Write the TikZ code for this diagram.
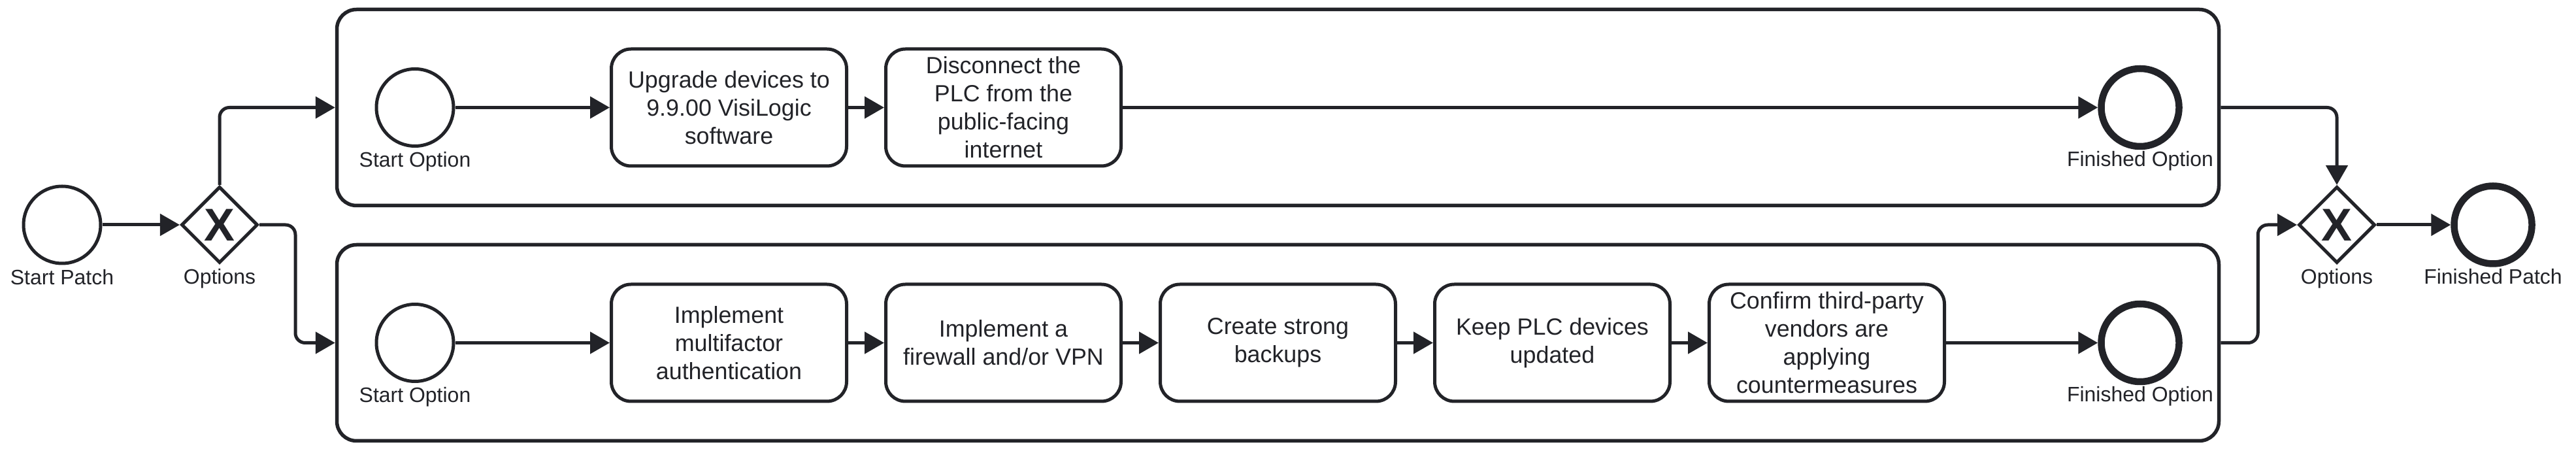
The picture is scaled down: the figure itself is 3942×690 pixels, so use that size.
\documentclass[tikz,border=0pt]{standalone}
\usepackage{fontspec}
\setmainfont{Liberation Sans}
\usetikzlibrary{positioning, arrows.meta, shapes.geometric}
\definecolor{ink}{HTML}{222328}
\tikzset{
->, % connectors get a filled head
>={Triangle[length=3mm, width=3.3mm]},
node distance=5.5mm, % gap between two tasks
startev/.style={circle, draw, line width=0.5mm, minimum size=11.8mm, inner sep=0pt},
endev/.style={circle, draw, line width=1.05mm, minimum size=11.9mm, inner sep=0pt},
gateway/.style={diamond, draw, line width=0.5mm, minimum width=11.7mm, minimum height=11.7mm, inner sep=0pt, font=\fontsize{20}{20}\selectfont\bfseries},
task/.style={rectangle, draw, rounded corners=3mm, line width=0.5mm, minimum width=36mm, minimum height=17.9mm, align=center, font=\fontsize{10.2}{12.2}\selectfont},
pool/.style={rectangle, draw, rounded corners=3mm, line width=0.55mm, minimum width=288mm, minimum height=30mm},
lbl/.style={font=\fontsize{9.1}{11}\selectfont, yshift=0.75mm},
endlbl/.style={lbl, yshift=0.45mm},
}

\begin{document}
\begin{tikzpicture}[x=0.1mm, y=-0.1mm, draw=ink, text=ink, line width=0.5mm]
                \useasboundingbox (0,0) rectangle (3942,690);

                % outer flow
                \node[startev, label={[lbl]below:Start Patch}] (startp) at (95,344) {};
                \node[gateway, label={[lbl]below:Options}] (split) at (336,344) {X};
                \node[pool] (poolA) at (1955.5,164.5) {};
                \node[pool] (poolB) at (1955.5,524.5) {};
                \node[gateway, label={[lbl]below:Options}] (join) at (3576,344) {X};
                \node[endev, label={[endlbl]below:Finished Patch}] (endp) at (3815,344) {};

                % first option
                \node[startev, label={[lbl]below:Start Option}] (startA) at (635,164.5) {};
                \node[task] (upgrade) at (1115.5,164.5) {Upgrade devices to\\9.9.00 VisiLogic\\software};
                \node[task, right=of upgrade] (disconnect) {Disconnect the\\PLC from the\\public-facing\\internet};
                \node[endev, label={[endlbl]below:Finished Option}] (endA) at (3275,164.5) {};

                % second option
                \node[startev, label={[lbl]below:Start Option}] (startB) at (635,524.5) {};
                \node[task] (mfa) at (1115.5,524.5) {Implement\\multifactor\\authentication};
                \node[task, right=of mfa] (firewall) {Implement a\\firewall and/or VPN};
                \node[task, right=of firewall] (backup) {Create strong\\backups};
                \node[task, right=of backup] (update) {Keep PLC devices\\updated};
                \node[task, right=of update] (vendor) {Confirm third-party\\vendors are\\applying\\countermeasures};
                \node[endev, label={[endlbl]below:Finished Option}] (endB) at (3275,524.5) {};

                \draw (startp) -- (split);
                \draw[rounded corners=1.5mm] (split.north) |- (poolA.west);
                \draw[rounded corners=1.5mm] (split.east) -- ++(5.5mm,0) |- (poolB.west);

                \draw (startA) -- (upgrade);
                \draw (upgrade) -- (disconnect);
                \draw (disconnect) -- (endA);

                \draw (startB) -- (mfa);
                \draw (mfa) -- (firewall);
                \draw (firewall) -- (backup);
                \draw (backup) -- (update);
                \draw (update) -- (vendor);
                \draw (vendor) -- (endB);

                \draw[rounded corners=1.5mm] (poolA.east) -| (join.north);
                \draw[rounded corners=1.5mm] (poolB.east) -- ++(5.7mm,0) |- (join.west);
                \draw (join) -- (endp);
            \end{tikzpicture}
\end{document}
